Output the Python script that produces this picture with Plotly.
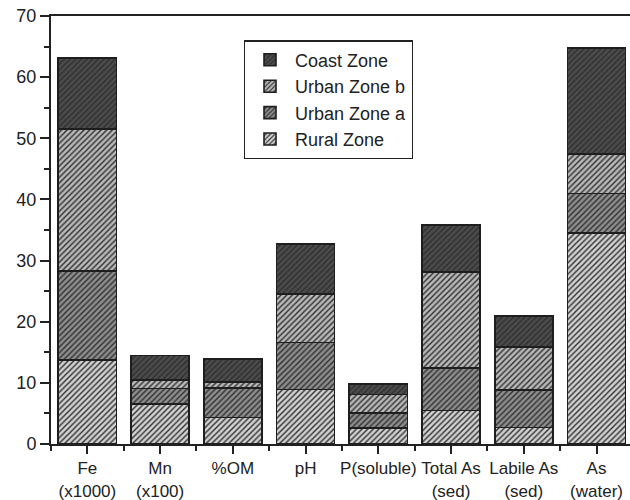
import plotly.graph_objects as go

categories = ["Fe<br>(x1000)", "Mn<br>(x100)", "%OM", "pH", "P(soluble)",
              "Total As<br>(sed)", "Labile As<br>(sed)", "As<br>(water)"]
# segment heights (cumulative tops differenced)
rural = [13.7, 6.5, 4.35, 8.9, 2.6, 5.5, 2.7, 34.5]
urban_a = [14.6, 2.6, 4.85, 7.7, 2.5, 6.9, 6.1, 6.5]
urban_b = [23.2, 1.4, 0.9, 7.9, 3.0, 15.7, 7.1, 6.4]
coast = [11.6, 3.95, 3.8, 8.2, 1.7, 7.7, 5.0, 17.4]

series = [
    ("Rural Zone", rural, "#d2d2d2"),
    ("Urban Zone a", urban_a, "#8e8e8e"),
    ("Urban Zone b", urban_b, "#b9b9b9"),
    ("Coast Zone", coast, "#4c4c4c"),
]

xpos = list(range(len(categories)))

fig = go.Figure()
for name, vals, col in series:
    fig.add_trace(go.Bar(
        x=xpos, y=vals, name=name, width=0.8,
        marker=dict(color=col,
                    line=dict(color="#1e1e1e", width=1.6),
                    pattern=dict(shape="/", size=4, solidity=0.35,
                                 fgcolor="#2e2e2e", bgcolor=col,
                                 fillmode="replace")),
    ))

font = "Liberation Sans, Arial, sans-serif"
fig.update_layout(
    width=630, height=500,
    margin=dict(l=51, r=0, t=16, b=56),
    barmode="stack",
    plot_bgcolor="white", paper_bgcolor="white",
    font=dict(family=font, color="#222222"),
    showlegend=True,
    legend=dict(
        traceorder="reversed",
        x=0.333, y=0.943, xanchor="left", yanchor="top",
        bordercolor="#222222", borderwidth=1.2,
        bgcolor="white",
        font=dict(size=18, family=font, color="#222222"),
        tracegroupgap=0, itemwidth=40,
    ),
    xaxis=dict(
        range=[-0.5, 7.46],
        tickmode="array", tickvals=xpos, ticktext=categories,
        ticks="outside", ticklen=8, tickwidth=2, tickcolor="#222222",
        showline=True, linecolor="#222222", linewidth=2, mirror=True,
        showgrid=False, zeroline=False,
        tickfont=dict(size=17, family=font, color="#222222"),
        minor=dict(tickmode="array", tickvals=[i - 0.5 for i in xpos] + [7.5],
                   ticks="outside", ticklen=5, tickwidth=2, tickcolor="#222222",
                   showgrid=False),
    ),
    yaxis=dict(
        range=[0, 70], dtick=10,
        ticks="outside", ticklen=9, tickwidth=2, tickcolor="#222222",
        showline=True, linecolor="#222222", linewidth=2,
        showgrid=False, zeroline=False,
        tickfont=dict(size=18, family=font, color="#222222"),
        minor=dict(dtick=5, ticks="outside", ticklen=5, tickwidth=2,
                   tickcolor="#222222", showgrid=False),
    ),
)

fig.write_html("out.html",
               config={"displayModeBar": False},
               post_script="document.body.style.margin='0';document.body.style.overflow='hidden';")
